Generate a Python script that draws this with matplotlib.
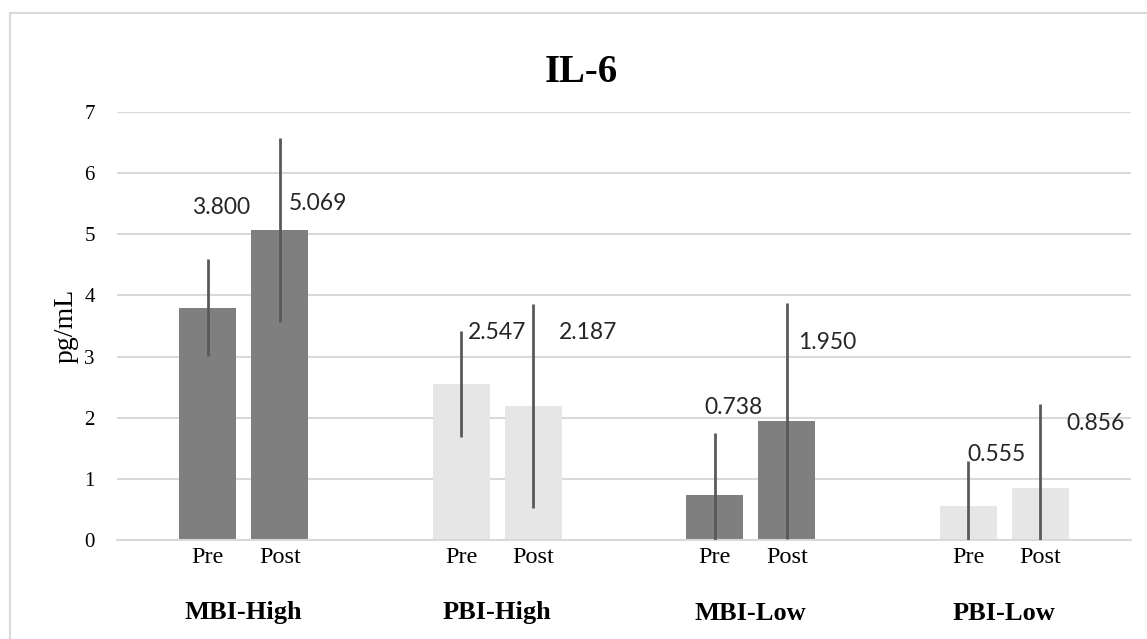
import numpy as np
import matplotlib
matplotlib.use("Agg")
import matplotlib.pyplot as plt
from matplotlib.patches import Rectangle

# data
groups = ["MBI-High", "PBI-High", "MBI-Low", "PBI-Low"]
phases = ["Pre", "Post"]
means = [3.800, 5.069, 2.547, 2.187, 0.738, 1.950, 0.555, 0.856]
errs = [0.79, 1.51, 0.87, 1.67, 1.02, 1.93, 0.73, 1.37]
yticks = [0, 1, 2, 3, 4, 5, 6, 7]

# layout
dark, light = "#7f7f7f", "#e6e6e6"
bar_colors = [dark, dark, light, light, dark, dark, light, light]
label_off = [(13, 100), (38, 27), (36, 52), (55, 74),
             (19, 87), (40, 78), (28, 52), (55, 64)]
half_gap = 0.142
bar_w = 0.225

serif = ["Liberation Serif", "DejaVu Serif"]
sans = ["Lato", "DejaVu Sans"]

fig = plt.figure(figsize=(11.47, 6.39), dpi=100)
ax = fig.add_axes([117/1147, 1-540/639, (1131-117)/1147, (540-112)/639])

xs = []
for g in range(len(groups)):
    xs += [g - half_gap, g + half_gap]
xs = np.array(xs)

ax.bar(xs, means, width=bar_w, color=bar_colors, zorder=2)
ax.vlines(xs, np.array(means) - np.array(errs), np.array(means) + np.array(errs),
          color="#595959", lw=2.0, zorder=3)

for x, m, (dx, dy) in zip(xs, means, label_off):
    ax.annotate(f"{m:.3f}", (x, m), xytext=(dx, dy), textcoords="offset pixels",
                ha="center", va="center", fontsize=16.5, family=sans, color="#262626")

ax.set_ylim(0, 7)
ax.set_xlim(-0.5, 3.5)
ax.set_yticks(yticks)
ax.set_yticklabels([str(t) for t in yticks], family=serif, fontsize=15)
ax.set_xticks(xs)
ax.set_xticklabels(phases * len(groups), family=serif, fontsize=17.5)
ax.tick_params(length=0, pad=16, colors="#000000")
ax.tick_params(axis="x", pad=5)
ax.grid(axis="y", color="#d9d9d9", lw=1.5, zorder=0)
ax.set_axisbelow(True)
for s in ["top", "right", "left"]:
    ax.spines[s].set_visible(False)
ax.spines["bottom"].set_color("#d9d9d9")
ax.spines["bottom"].set_linewidth(1.5)

for g, name in enumerate(groups):
    ax.annotate(name, (g, 0), xytext=(0, -73), textcoords="offset pixels",
                ha="center", va="center", fontsize=19, family=serif, weight="bold")

ax.set_ylabel("pg/mL", family=serif, fontsize=20, labelpad=4)
fig.text(581/1147, 1-72/639, "IL-6", ha="center", va="center",
         fontsize=28, family=serif, weight="bold")

# chart frame (right and bottom edges fall outside the picture)
fig.patches.append(Rectangle((10/1147, -0.1), 1.2, 1-13/639+0.1,
                             transform=fig.transFigure, fill=False,
                             edgecolor="#d9d9d9", lw=1.5))

fig.savefig("out.png", dpi=100)
